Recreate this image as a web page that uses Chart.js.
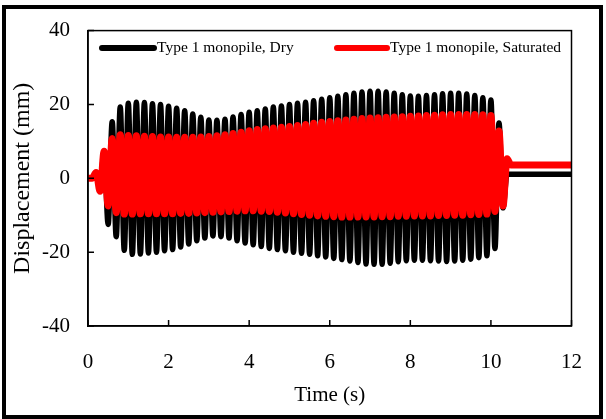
<!DOCTYPE html>
<html>
<head>
<meta charset="utf-8">
<script src="https://cdn.jsdelivr.net/npm/chart.js@4.4.1/dist/chart.umd.min.js"></script>
<style>
  html, body { margin: 0; padding: 0; background: #fff; }
  canvas { display: block; }
</style>
</head>
<body>
<canvas id="chart" width="606" height="419"></canvas>
<script>
// time points (s): one point per half cycle of the 5 Hz shaking
const times = [
  0, 0.1, 0.2, 0.3, 0.4, 0.5, 0.6, 0.7, 0.8, 0.9,
  1.0, 1.1, 1.2, 1.3, 1.4, 1.5, 1.6, 1.7, 1.8, 1.9,
  2.0, 2.1, 2.2, 2.3, 2.4, 2.5, 2.6, 2.7, 2.8, 2.9,
  3.0, 3.1, 3.2, 3.3, 3.4, 3.5, 3.6, 3.7, 3.8, 3.9,
  4.0, 4.1, 4.2, 4.3, 4.4, 4.5, 4.6, 4.7, 4.8, 4.9,
  5.0, 5.1, 5.2, 5.3, 5.4, 5.5, 5.6, 5.7, 5.8, 5.9,
  6.0, 6.1, 6.2, 6.3, 6.4, 6.5, 6.6, 6.7, 6.8, 6.9,
  7.0, 7.1, 7.2, 7.3, 7.4, 7.5, 7.6, 7.7, 7.8, 7.9,
  8.0, 8.1, 8.2, 8.3, 8.4, 8.5, 8.6, 8.7, 8.8, 8.9,
  9.0, 9.1, 9.2, 9.3, 9.4, 9.5, 9.6, 9.7, 9.8, 9.9,
  10.0, 10.1, 10.2, 10.3, 10.4, 10.5, 12
];

// displacement (mm), Type 1 monopile, Dry
const dryDisp = [
  0, 0, 0.3, -2, 7, -12.5, 15.3, -15.8, 19.3, -19.5,
  20.3, -20.6, 20.6, -20.5, 20.5, -20.2, 20.2, -20, 20, -19.6,
  19.5, -19.3, 19, -18.6, 18.3, -17.8, 17.4, -16.9, 16.5, -16.2,
  15.8, -15.6, 15.7, -15.8, 16, -16.2, 16.6, -16.9, 17.3, -17.5,
  17.9, -18, 18.3, -18.5, 18.8, -19, 19.3, -19.3, 19.6, -19.6,
  20, -20, 20.3, -20.3, 20.6, -20.6, 21, -21, 21.4, -21.3,
  21.8, -21.7, 22.2, -22, 22.6, -22.4, 23, -22.8, 23.4, -23.2,
  23.6, -23.3, 23.6, -23.3, 23.4, -23, 23, -22.6, 22.6, -22.3,
  22.3, -22.2, 22.2, -22.2, 22.4, -22.3, 22.6, -22.4, 22.9, -22.5,
  23, -22.4, 23, -22.2, 22.8, -21.9, 22.4, -21.5, 21.8, -21,
  21.2, -19, 15, -8, 1.1, 1.1, 1.1
];

// displacement (mm), Type 1 monopile, Saturated
const satDisp = [
  0, 0, 1.6, -3.5, 7.3, -7.5, 10.8, -9.3, 11.8, -9.7,
  11.6, -9.7, 11.5, -9.6, 11.4, -9.6, 11.3, -9.6, 11.2, -9.6,
  11.2, -9.6, 11.1, -9.5, 11.1, -9.5, 11.1, -9.4, 11.2, -9.3,
  11.3, -9.2, 11.5, -9.1, 11.8, -9.0, 12.1, -8.9, 12.5, -8.8,
  12.9, -8.8, 13.2, -8.9, 13.4, -9.0, 13.6, -9.2, 13.8, -9.4,
  14.0, -9.6, 14.3, -9.8, 14.6, -10.0, 14.9, -10.2, 15.2, -10.3,
  15.4, -10.4, 15.6, -10.5, 15.8, -10.5, 16.0, -10.5, 16.2, -10.5,
  16.3, -10.5, 16.4, -10.4, 16.5, -10.4, 16.6, -10.3, 16.7, -10.3,
  16.8, -10.2, 16.9, -10.2, 17.0, -10.2, 17.1, -10.1, 17.2, -10.1,
  17.3, -10.0, 17.3, -10.0, 17.3, -9.9, 17.3, -9.8, 17.2, -9.7,
  17.0, -9.0, 12.8, -7.5, 5.3, 3.6, 3.6
];

const xTicks = [0, 2, 4, 6, 8, 10, 12];
const yTicks = [-40, -20, 0, 20, 40];

const serif = 'Liberation Serif';

const toPoints = vals => times.map((t, i) => ({ x: t, y: vals[i] }));

// plot box, inward tick marks, legend inside the plot and outer frame
const decorations = {
    id: 'decorations',
    beforeDraw(chart) {
        const ctx = chart.ctx;
        ctx.save();
        ctx.fillStyle = '#fff';
        ctx.fillRect(0, 0, chart.width, chart.height);
        ctx.restore();
    },
    afterDraw(chart) {
        const { ctx, chartArea: a, scales } = chart;
        ctx.save();
        ctx.strokeStyle = '#000';
        ctx.lineWidth = 1.5;
        ctx.strokeRect(a.left, a.top, a.right - a.left, a.bottom - a.top);

        ctx.beginPath();
        xTicks.forEach(v => {
            const px = scales.x.getPixelForValue(v);
            ctx.moveTo(px, a.bottom);
            ctx.lineTo(px, a.bottom - 6);
        });
        yTicks.forEach(v => {
            const py = scales.y.getPixelForValue(v);
            ctx.moveTo(a.left, py);
            ctx.lineTo(a.left + 6, py);
        });
        ctx.stroke();

        // legend
        const items = [
            { ds: chart.data.datasets[0], x1: 102, x2: 154 },
            { ds: chart.data.datasets[1], x1: 337, x2: 387 }
        ];
        const ly = 48;
        ctx.lineCap = 'round';
        ctx.font = '15.5px "' + serif + '"';
        ctx.textBaseline = 'middle';
        ctx.fillStyle = '#000';
        items.forEach(it => {
            ctx.strokeStyle = it.ds.borderColor;
            ctx.lineWidth = 6;
            ctx.beginPath();
            ctx.moveTo(it.x1, ly);
            ctx.lineTo(it.x2, ly);
            ctx.stroke();
            ctx.fillText(it.ds.label, it.x2 + 3, ly);
        });

        // outer frame
        ctx.strokeStyle = '#000';
        ctx.lineWidth = 4;
        ctx.lineCap = 'butt';
        ctx.strokeRect(4, 7, 597, 410);
        ctx.restore();
    }
};

const ctx = document.getElementById('chart').getContext('2d');
const myChart = new Chart(ctx, {
    type: 'line',
    data: {
        datasets: [
            {
                label: 'Type 1 monopile, Dry',
                data: toPoints(dryDisp),
                borderColor: '#000000',
                borderWidth: 5.5,
                borderCapStyle: 'round',
                borderJoinStyle: 'round',
                cubicInterpolationMode: 'monotone',
                pointRadius: 0,
                fill: false,
                order: 2
            },
            {
                label: 'Type 1 monopile, Saturated',
                data: toPoints(satDisp),
                borderColor: '#ff0000',
                borderWidth: 7,
                borderCapStyle: 'round',
                borderJoinStyle: 'round',
                cubicInterpolationMode: 'monotone',
                pointRadius: 0,
                fill: false,
                order: 1
            }
        ]
    },
    options: {
        responsive: false,
        animation: false,
        devicePixelRatio: 1,
        layout: {
            padding: { top: 23, right: 24, left: 0, bottom: 0 }
        },
        plugins: {
            legend: { display: false },
            tooltip: { enabled: false }
        },
        scales: {
            x: {
                type: 'linear',
                min: 0,
                max: 12,
                afterFit: scale => { scale.height = 93; },
                afterBuildTicks: scale => { scale.ticks = xTicks.map(v => ({ value: v })); },
                ticks: {
                    color: '#000',
                    padding: 24,
                    font: { family: serif, size: 21 }
                },
                grid: { display: false, drawTicks: false },
                border: { display: true, color: '#000', width: 1.5 },
                title: {
                    display: true,
                    text: 'Time (s)',
                    color: '#000',
                    font: { family: serif, size: 21 },
                    padding: { top: 0, bottom: 11 }
                }
            },
            y: {
                min: -40,
                max: 40,
                afterFit: scale => { scale.width = 88; },
                afterBuildTicks: scale => { scale.ticks = yTicks.map(v => ({ value: v })); },
                ticks: {
                    color: '#000',
                    padding: 18,
                    font: { family: serif, size: 21 }
                },
                grid: { display: false, drawTicks: false },
                border: { display: true, color: '#000', width: 1.5 },
                title: {
                    display: true,
                    text: 'Displacement (mm)',
                    color: '#000',
                    font: { family: serif, size: 24 },
                    padding: { top: 8, bottom: 0 }
                }
            }
        }
    },
    plugins: [decorations]
});
</script>
</body>
</html>
